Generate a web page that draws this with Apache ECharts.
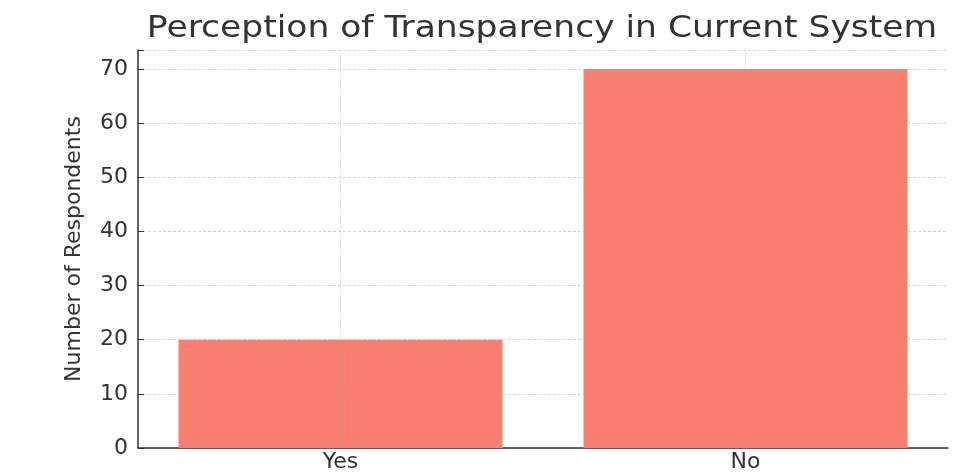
<!DOCTYPE html>
<html>
<head>
<meta charset="utf-8">
<script src="https://cdn.jsdelivr.net/npm/echarts@6/dist/echarts.min.js"></script>
<style>
  html, body { margin: 0; padding: 0; background: #ffffff; }
  #chart { width: 973px; height: 475px; }
</style>
</head>
<body>
<div id="chart"></div>
<script>
// Survey answers and respondent counts
const categories = ['Yes', 'No'];
const respondents = [20, 70];
const yTicks = [0, 10, 20, 30, 40, 50, 60, 70];
const chartTitle = 'Perception of Transparency in Current System';

const chart = echarts.init(document.getElementById('chart'));
const font = 'DejaVu Sans';
const textColor = '#333333';

chart.setOption({
  animation: false,
  backgroundColor: '#ffffff',
  // Title drawn as a wide-set text element centred over the plot area
  graphic: [{
    type: 'text',
    x: 542,
    y: 29,
    scaleX: 1.15,
    style: {
      text: chartTitle,
      fontFamily: font,
      fontSize: 30,
      fill: textColor,
      textAlign: 'center',
      textVerticalAlign: 'middle'
    }
  }],
  grid: { left: 138, right: 25, top: 50, bottom: 27 },
  xAxis: {
    type: 'category',
    data: categories,
    boundaryGap: true,
    axisLine: { lineStyle: { color: '#333333', width: 1.5 } },
    axisTick: { show: true, inside: true, length: 5, alignWithLabel: true, lineStyle: { color: '#333333' } },
    axisLabel: { fontFamily: font, fontSize: 22, color: textColor, margin: 3 },
    splitLine: { show: false }
  },
  yAxis: {
    type: 'value',
    min: 0,
    max: 73.5,
    interval: 10,
    name: 'Number of Respondents',
    nameLocation: 'middle',
    nameGap: 53,
    nameTextStyle: { fontFamily: font, fontSize: 22, color: textColor },
    axisLine: { show: true, lineStyle: { color: '#333333', width: 1.5 } },
    axisTick: { show: true, inside: true, length: 6, lineStyle: { color: '#333333' } },
    axisLabel: {
      fontFamily: font, fontSize: 22, color: textColor, margin: 10,
      formatter: v => (yTicks.indexOf(v) >= 0 ? String(v) : '')
    },
    splitLine: { show: true, lineStyle: { color: '#d4d4d4', type: [3, 2], width: 1 } }
  },
  series: [{
    type: 'bar',
    data: respondents,
    barWidth: '80%',
    itemStyle: { color: '#F98071' },
    markLine: {
      silent: true,
      symbol: 'none',
      label: { show: false },
      lineStyle: { color: 'rgba(170,170,170,0.35)', type: [3, 2], width: 1 },
      data: categories.map(c => ({ xAxis: c }))
    }
  }]
});
</script>
</body>
</html>
